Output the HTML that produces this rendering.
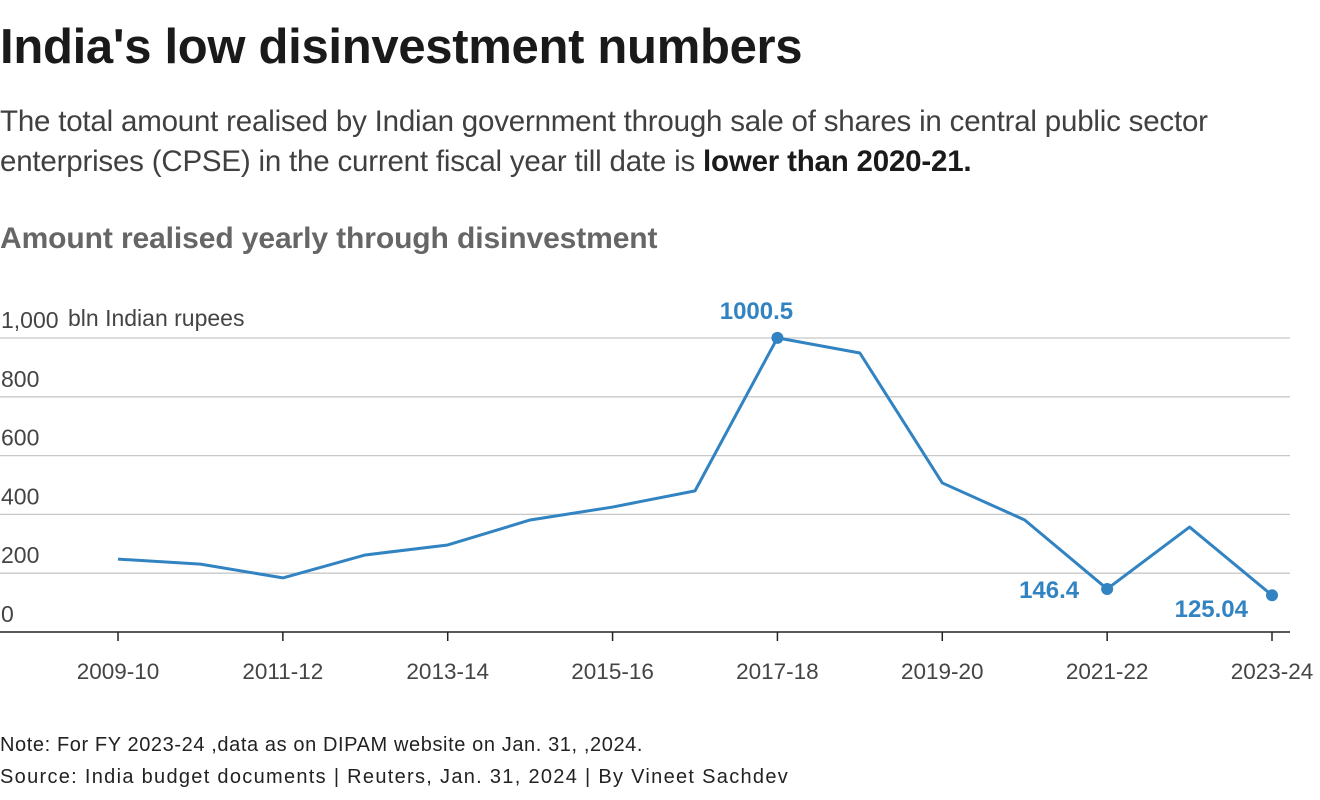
<!DOCTYPE html>
<html><head><meta charset="utf-8"><style>
body{margin:0;width:1320px;height:800px;background:#fff;font-family:"Liberation Sans",sans-serif;overflow:hidden;position:relative}
.t{position:absolute;left:0;white-space:nowrap}
</style></head><body>
<div class="t" style="top:19px;font-size:49px;font-weight:bold;color:#1a1a1a;letter-spacing:-0.3px">India's low disinvestment numbers</div>
<div class="t" style="top:102px;font-size:29.5px;color:#404040;line-height:40px;letter-spacing:-0.2px">The total amount realised by Indian government through sale of shares in central public sector<br>enterprises (CPSE) in the current fiscal year till date is <b style="color:#1a1a1a">lower than 2020-21.</b></div>
<div class="t" style="top:222px;font-size:30px;font-weight:bold;color:#666;letter-spacing:-0.1px">Amount realised yearly through disinvestment</div>
<svg id="c" width="1320" height="800" style="position:absolute;left:0;top:0"></svg>
<div class="t" style="top:734px;font-size:20px;color:#222;letter-spacing:0.6px">Note: For FY 2023-24 ,data as on DIPAM website on Jan. 31, ,2024.</div>
<div class="t" style="top:766px;font-size:20px;color:#222;letter-spacing:1.3px">Source: India budget documents | Reuters, Jan. 31, 2024 | By Vineet Sachdev</div>
<script>
const categories=["2009-10","2010-11","2011-12","2012-13","2013-14","2014-15","2015-16","2016-17","2017-18","2018-19","2019-20","2020-21","2021-22","2022-23","2023-24"];
const values=[248,231,184,262,296,381,425,480,1000.5,949,507,381,146.4,357,125.04];
const yTicks=[0,200,400,600,800,1000];
const yTickLabels=["0","200","400","600","800","1,000"];
const labeled={8:"1000.5",12:"146.4",14:"125.04"};
const NS="http://www.w3.org/2000/svg",svg=document.getElementById('c');
const x=i=>118+i*(1272-118)/(categories.length-1);
const y=v=>632-v*0.294;
function mk(t,a,txt){const e=document.createElementNS(NS,t);for(const k in a)e.setAttribute(k,a[k]);if(txt!==undefined)e.textContent=txt;svg.appendChild(e);return e;}
yTicks.forEach((v,i)=>{
 if(v>0){const g=mk('line',{x1:0,x2:1290,y1:y(v),y2:y(v),stroke:'#c8c8c8','stroke-width':1.3});
 
 }
 const t=mk('text',{x:1,y:y(v)-10,'font-size':23,fill:'#444','font-family':'Liberation Sans'},yTickLabels[i]);
 
 
});
const u=mk('text',{x:68,y:y(1000)-12,'font-size':23,fill:'#444','font-family':'Liberation Sans'},'bln Indian rupees');


const ax=mk('line',{x1:0,x2:1290,y1:632,y2:632,stroke:'#222','stroke-width':1.5});


categories.forEach((c,i)=>{if(i%2)return;
 const tk=mk('line',{x1:x(i),x2:x(i),y1:632,y2:641,stroke:'#222','stroke-width':1.5});
 
 
 const t=mk('text',{x:x(i),y:679,'font-size':22.5,fill:'#444','text-anchor':'middle','font-family':'Liberation Sans'},c);
 
 
});
const p=mk('polyline',{points:values.map((v,i)=>x(i)+','+y(v)).join(' '),fill:'none',stroke:'#3283c2','stroke-width':3,'stroke-linejoin':'round'});


for(const k in labeled){const i=+k,v=values[i];
 const d=mk('circle',{cx:x(i),cy:y(v),r:6,fill:'#3283c2'});
 
 
 let lx=x(i)-21,ly=y(v)-19,anc='middle';
 if(i==12){lx=x(i)-28;ly=y(v)+9;anc='end';}
 if(i==14){lx=x(i)-24;ly=y(v)+22;anc='end';}
 const t=mk('text',{x:lx,y:ly,'font-size':24,'font-weight':'bold',fill:'#3283c2','text-anchor':anc,'font-family':'Liberation Sans'},labeled[k]);
 
 
}
</script>
</body></html>
